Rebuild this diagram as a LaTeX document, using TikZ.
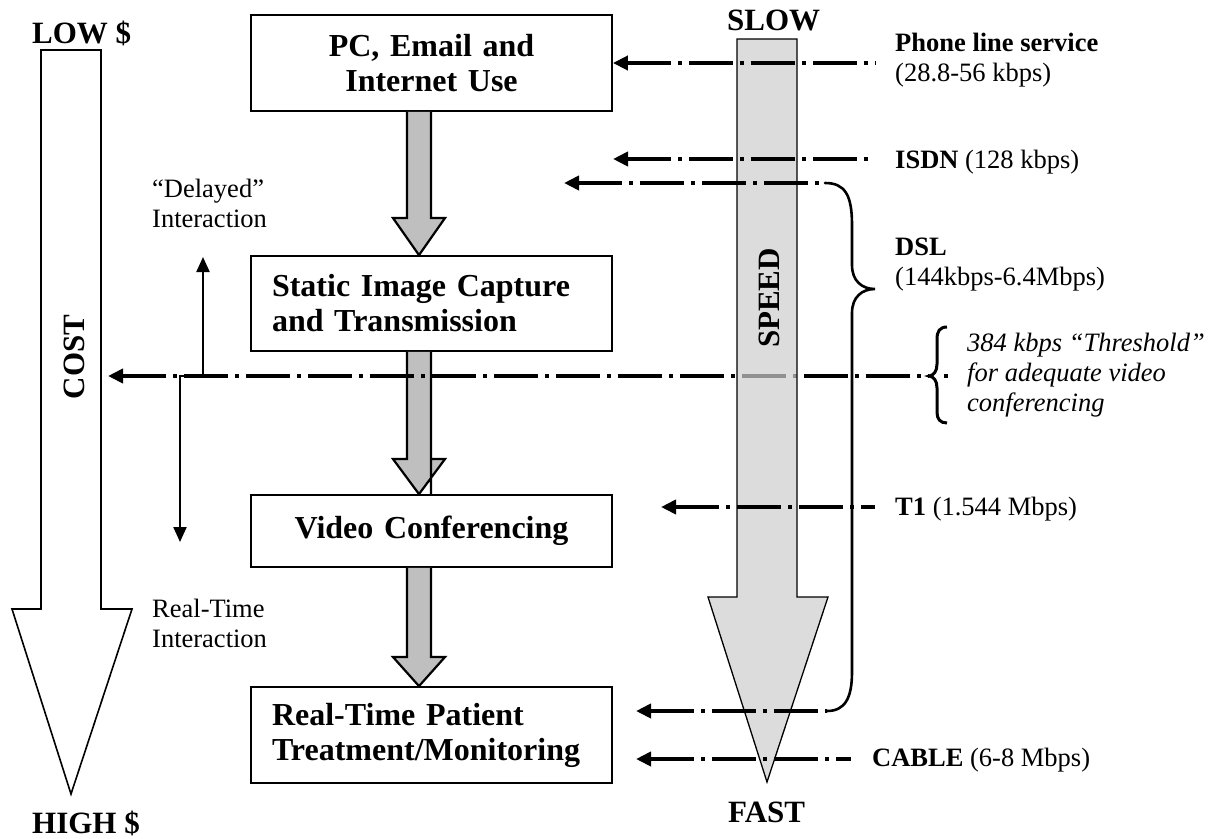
\documentclass[tikz,border=0pt]{standalone}
\usepackage{fontspec}
\setmainfont{Liberation Serif}
\usetikzlibrary{arrows.meta}
\begin{document}
\begin{tikzpicture}[x=1pt,y=-1pt,
  box/.style={draw, line width=1.8pt, fill=white, inner xsep=21pt, inner ysep=0pt,
    text width=319pt, minimum height=#1, font=\fontsize{32}{35}\selectfont\bfseries},
  flow/.style={draw, line width=2.2pt, fill=black!25, line join=miter},
  dd/.style={line width=4pt, dash pattern=on 44pt off 7pt on 4pt off 7pt,
    {Triangle[length=15pt,width=14pt]}-},
  thin/.style={line width=2.2pt, -{Triangle[length=15pt,width=13pt]}},
  side/.style={font=\fontsize{26.5}{30}\selectfont, anchor=west, align=left, inner sep=0pt},
  big/.style={font=\fontsize{31}{31}\selectfont\bfseries, inner sep=0pt},
  bracestyle/.style={line width=2.6pt, line cap=round}
]
\fill[white] (0,0) rectangle (1218,838);
\useasboundingbox (0,0) rectangle (1218,838);

% cost arrow
\draw[line width=1.6pt, fill=white] (41,50) -- (101,50) -- (101,609) -- (132,609) -- (71,794) -- (12,609) -- (41,609) -- cycle;
\node[big, anchor=base west] (low) at (32,43) {LOW \$};
\node[big, anchor=base west] (high) at (32,833) {HIGH \$};
\node[big, rotate=90] (cost) at (74,357) {COST};

% boxes
\node[box=96pt, align=center] (b1) at (431.5,63) {PC, Email and\\Internet Use};
\node[box=95pt, align=left] (b2) at (431.5,303.5) {Static Image Capture\\and Transmission};
\node[box=72pt, align=center] (b3) at (431.5,531) {Video Conferencing};
\node[box=96pt, align=left] (b4) at (431.5,735) {Real-Time Patient\\Treatment/Monitoring};

% block arrows between boxes
\path[flow] (b1.south -| 407,0) -- (407,218) -- (393,218) -- (b2.north -| 419,0) -- (445,218) -- (431,218) -- (b1.south -| 431,0);
\path[flow] (b2.south -| 407,0) -- (407,459) -- (393,459) -- (b3.north -| 419,0) -- (445,459) -- (431,459) -- (b3.north -| 431,0) -- (b2.south -| 431,0);
\path[flow] (b3.south -| 407,0) -- (407,657) -- (393,657) -- (b4.north -| 419,0) -- (445,657) -- (431,657) -- (b3.south -| 431,0);

% coordinates
\coordinate (phoneR) at (875,63);
\coordinate (isdnL) at (613,159);
\coordinate (isdnR) at (875,159);
\coordinate (dslT) at (564,183);
\coordinate (dslTR) at (825,183);
\coordinate (thrL) at (108,376);
\coordinate (thrR) at (929,376);
\coordinate (t1L) at (661,507);
\coordinate (t1R) at (875,507);
\coordinate (dslB) at (636,711);
\coordinate (dslBR) at (827,711);
\coordinate (cabL) at (636,759);
\coordinate (cabR) at (851,759);
\coordinate (upS) at (203,376);
\coordinate (upE) at (203,257);
\coordinate (dnS) at (180,376);
\coordinate (dnE) at (180,542);

% threshold line (under the speed arrow)
\draw[dd] (thrL) -- (thrR);
\draw[line width=4pt] (944,376) -- (948,376);

% speed arrow
\draw[line width=1.3pt, fill={rgb,255:red,206;green,206;blue,206}, fill opacity=0.7]
  (737,39) -- (797,39) -- (797,597) -- (828,597) -- (767,782) -- (708,597) -- (737,597) -- cycle;
\node[big, anchor=base west] (slow) at (727,30) {SLOW};
\node[big, anchor=base west] (fast) at (728,822) {FAST};
\node[big, rotate=90] (speed) at (769,298) {SPEED};

% interaction arrows
\draw[thin] (upS) -- (upE);
\draw[thin] (upS) -- (dnS) -- (dnE);
\node[side] (delayed) at (152,203) {“Delayed”\\Interaction};
\node[side] (rti) at (152,623) {Real-Time\\Interaction};

% service arrows
\draw[dd] (b1.east |- phoneR) -- (phoneR);
\draw[dd] (isdnL) -- (isdnR);
\draw[dd] (dslT) -- (dslTR);
\draw[dd] (t1L) -- (t1R);
\draw[dd] (dslB) -- (dslBR);
\draw[dd] (cabL) -- (cabR);

% DSL brace
\draw[bracestyle] (dslTR) .. controls (845,183) and (852,195) .. (852,225) -- (852,265)
  .. controls (852,281) and (862,289) .. (875,289)
  .. controls (862,289) and (852,297) .. (852,313) -- (852,672)
  .. controls (852,698) and (845,711) .. (dslBR);
% threshold brace
\draw[line width=3pt] (947,327) .. controls (940,327) and (937,331) .. (937,339) -- (937,364)
  .. controls (937,371) and (934,375.5) .. (thrR)
  .. controls (934,376.5) and (937,381) .. (937,388) -- (937,412)
  .. controls (937,419) and (940,423) .. (947,423);

% labels
\node[side] (phone) at (895,60) {\textbf{Phone line service}\\(28.8-56 kbps)};
\node[side] (isdn) at (895,162) {\textbf{ISDN} (128 kbps)};
\node[side] (dsl) at (895,265) {\textbf{DSL}\\(144kbps-6.4Mbps)};
\node[side, font=\fontsize{26.5}{30}\selectfont\itshape] (thr) at (967,375) {384 kbps “Threshold”\\for adequate video\\conferencing};
\node[side] (t1) at (895,509) {\textbf{T1} (1.544 Mbps)};
\node[side] (cable) at (872,760) {\textbf{CABLE} (6-8 Mbps)};
\end{tikzpicture}
\end{document}
